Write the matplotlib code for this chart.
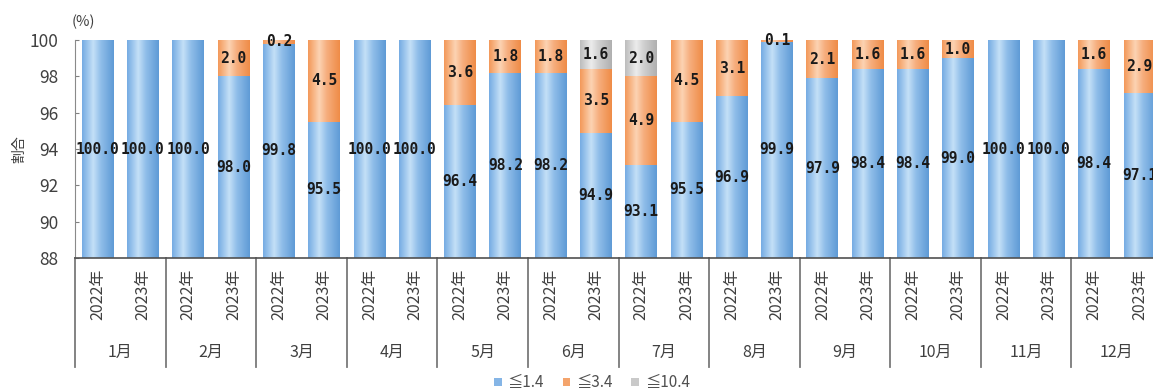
import numpy as np
import matplotlib
matplotlib.use("Agg")
import matplotlib.pyplot as plt
from matplotlib.colors import LinearSegmentedColormap
from matplotlib.patches import Patch
import matplotlib.transforms as mtransforms

plt.rcParams['font.family'] = ['Noto Sans CJK JP', 'DejaVu Sans']

months = ["1月", "2月", "3月", "4月", "5月", "6月", "7月", "8月", "9月", "10月", "11月", "12月"]
years = ["2022年", "2023年"]
series_names = ["≦1.4", "≦3.4", "≦10.4"]

# share (%) per bar, order: month x (2022, 2023)
le_1_4 = [100.0, 100.0, 100.0, 98.0, 99.8, 95.5, 100.0, 100.0, 96.4, 98.2, 98.2, 94.9,
          93.1, 95.5, 96.9, 99.9, 97.9, 98.4, 98.4, 99.0, 100.0, 100.0, 98.4, 97.1]
le_3_4 = [0.0, 0.0, 0.0, 2.0, 0.2, 4.5, 0.0, 0.0, 3.6, 1.8, 1.8, 3.5,
          4.9, 4.5, 3.1, 0.1, 2.1, 1.6, 1.6, 1.0, 0.0, 0.0, 1.6, 2.9]
le_10_4 = [0.0, 0.0, 0.0, 0.0, 0.0, 0.0, 0.0, 0.0, 0.0, 0.0, 0.0, 1.6,
           2.0, 0.0, 0.0, 0.0, 0.0, 0.0, 0.0, 0.0, 0.0, 0.0, 0.0, 0.0]

ymin, ymax = 88, 100

# gradient palettes (edge, light centre, darker right edge)
grads = [
    ["#76ace3", "#c4e0f7", "#8fbde9", "#5f9bd6"],
    ["#f3995a", "#fcd3b3", "#f6ad7c", "#ef8c47"],
    ["#bdbdbd", "#ececec", "#cfcfcf", "#b0b0b0"],
]
flat = ["#85b5e6", "#f4a46c", "#c9c9c9"]

fig = plt.figure(figsize=(11.53, 3.92), dpi=100)
ax = fig.add_axes([75 / 1153, 1 - 258 / 392, (1162 - 75) / 1153, 218 / 392])

x = np.arange(len(le_1_4))
width = 0.70
grad_img = np.linspace(0, 1, 64).reshape(1, -1)

bottom = np.zeros(len(x))
for k, vals in enumerate([le_1_4, le_3_4, le_10_4]):
    vals = np.array(vals)
    bars = ax.bar(x, vals, width, bottom=bottom, color=flat[k], linewidth=0, zorder=2)
    cmap = LinearSegmentedColormap.from_list("g%d" % k, list(zip([0, 0.35, 0.6, 1.0], grads[k])))
    for b, v in zip(bars, vals):
        if v <= 0:
            continue
        x0, x1 = b.get_x(), b.get_x() + b.get_width()
        lo = max(b.get_y(), ymin)
        hi = min(b.get_y() + b.get_height(), ymax)
        im = ax.imshow(grad_img, extent=[x0, x1, lo, hi], aspect='auto', cmap=cmap,
                       interpolation='bilinear', zorder=2.5)
        # label at centre of visible part of segment
        ax.text(b.get_x() + b.get_width() / 2, (lo + hi) / 2, "%.1f" % v,
                ha='center', va='center', fontsize=10.5, fontweight='bold',
                family='DejaVu Sans Mono', color='#1a1a1a', zorder=4)
    bottom = bottom + vals

ax.set_xlim(-0.5, len(x) - 0.5)
ax.set_ylim(ymin, ymax)
ax.set_yticks(np.arange(ymin, ymax + 1, 2))
ax.set_xticks([])
ax.tick_params(axis='y', direction='in', length=3, color='#808080', labelsize=12.5,
               labelcolor='#404040', pad=12)
for s in ['top', 'right']:
    ax.spines[s].set_visible(False)
ax.spines['left'].set_color('#8a8a8a')
ax.spines['left'].set_zorder(5)
ax.spines['bottom'].set_color('#505050')
ax.spines['bottom'].set_linewidth(1.2)
ax.spines['bottom'].set_zorder(5)

trans = mtransforms.blended_transform_factory(ax.transData, ax.transAxes)
for i in range(len(x)):
    ax.text(x[i], -0.05, years[i % 2], rotation=90, ha='center', va='top',
            fontsize=11.5, color='#404040', transform=trans, clip_on=False)
for m, name in enumerate(months):
    ax.text(2 * m + 0.5, -0.435, name, ha='center', va='center', fontsize=11.5,
            color='#404040', transform=trans, clip_on=False)
for m in range(len(months) + 1):
    ax.plot([2 * m - 0.5, 2 * m - 0.5], [0, -0.5], color='#7a7a7a', lw=1.3,
            transform=trans, clip_on=False)

ax.set_ylabel("割合", fontsize=10, color='#404040')
ax.yaxis.set_label_coords(-0.045, 0.5)
fig.text(83 / 1153, 1 - 22 / 392, "(%)", ha='center', va='center', fontsize=10.5, color='#404040')

handles = [Patch(facecolor=c) for c in flat]
fig.legend(handles, series_names, loc='center', bbox_to_anchor=(592 / 1153, 1 - 383 / 392),
           ncol=3, frameon=False, fontsize=11, handlelength=0.5, handleheight=0.5,
           handletextpad=0.4, columnspacing=1.2, labelcolor='#505050')

fig.savefig("out.png", dpi=100)
